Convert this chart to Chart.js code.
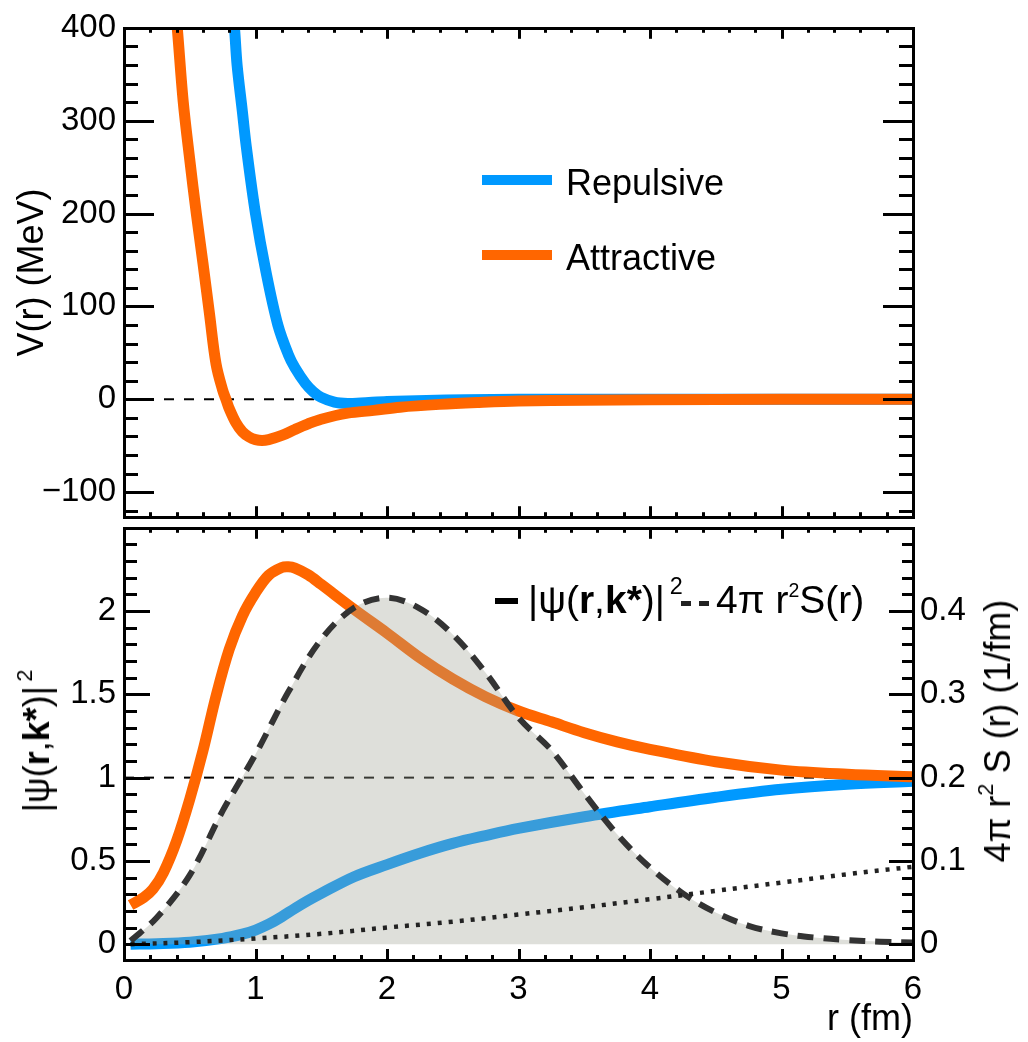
<!DOCTYPE html>
<html>
<head>
<meta charset="utf-8">
<title>V(r) and |psi|^2</title>
<script src="https://cdn.jsdelivr.net/npm/chart.js@4.4.1/dist/chart.umd.min.js"></script>
<style>
  html, body { margin: 0; padding: 0; background: #fff; }
  body { width: 1028px; height: 1042px; position: relative; overflow: hidden;
         font-family: "Liberation Sans", Arial, Helvetica, sans-serif; color: #000; }
  #topBox { position: absolute; left: 0; top: 0; width: 1028px; height: 545px; }
  #botBox { position: absolute; left: 0; top: 500px; width: 1028px; height: 542px; }
  .txt { position: absolute; white-space: nowrap; line-height: 1; }
  .rot { transform: translate(-50%, -50%) rotate(-90deg); }
  .txt sup { font-size: 0.6em; vertical-align: 0.8em; line-height: 0; }
  .bar { position: absolute; }
</style>
</head>
<body>
<div id="topBox"><canvas id="potChart" width="1028" height="545"></canvas></div>
<div id="botBox"><canvas id="wfChart" width="1028" height="542"></canvas></div>

<!-- legend, top pad -->
<div class="bar" style="left:482px; top:175px; width:70px; height:10px; background:#0099ff"></div>
<div class="txt" style="left:566px; top:165px; font-size:36px">Repulsive</div>
<div class="bar" style="left:482px; top:250px; width:70px; height:10px; background:#ff6600"></div>
<div class="txt" style="left:566px; top:240px; font-size:36px">Attractive</div>

<!-- legend, bottom pad -->
<div class="bar" style="left:495px; top:598px; width:23px; height:6px; background:#000"></div>
<div class="txt" style="left:528px; top:580px; font-size:39px">|ψ(<b>r</b>,<b>k*</b>)|<sup style="margin-left:0.2em">2</sup></div>
<div class="bar" style="left:681px; top:601px; width:10px; height:5px; background:#222"></div>
<div class="bar" style="left:699px; top:601px; width:10px; height:5px; background:#222"></div>
<div class="txt" style="left:716px; top:580px; font-size:39px">4π r<sup style="font-size:0.5em">2</sup>S(r)</div>

<!-- axis titles of the bottom pad -->
<div class="txt rot" style="left:37px; top:741px; font-size:36px">|ψ(<b>r</b>,<b>k*</b>)|<sup style="margin-left:0.2em">2</sup></div>
<div class="txt rot" style="left:998px; top:731px; font-size:36px">4π r<sup>2</sup> S (r) (1/fm)</div>

<script>
'use strict'

/* valeurs */

// panneau du haut : V(r) en MeV
const rAttractiveV = [0.38, 0.40, 0.45, 0.50, 0.55, 0.60, 0.65, 0.70, 0.75, 0.78, 0.80, 0.85, 0.90, 0.95, 1.00, 1.05, 1.10, 1.20, 1.30, 1.40, 1.50, 1.70, 1.90, 2.10, 2.40, 2.70, 3.00, 3.50, 4.00, 5.00, 6.00];
const vAttractive  = [430, 408, 321, 258, 200, 147, 92, 38, 10, -2, -10, -25, -35, -40.5, -43.5, -44.5, -43.5, -39, -32.5, -26.5, -21.5, -15, -12, -8.5, -5.5, -3.5, -2, -1, -0.5, 0, 0];

const rRepulsiveV = [0.80, 0.84, 0.86, 0.90, 0.93, 1.00, 1.08, 1.17, 1.25, 1.30, 1.38, 1.44, 1.50, 1.60, 1.70, 1.80, 2.00, 2.30, 2.60, 3.00, 4.00, 6.00];
const vRepulsive  = [460, 400, 360, 310, 272, 200, 137, 80, 48, 34, 17, 8, 2, -3, -4.5, -4, -2.5, -1.2, -0.5, 0, 0, 0];

// panneau du bas : |psi|^2 (axe de gauche)
const rPsiAttractive = [0.05, 0.15, 0.22, 0.30, 0.40, 0.50, 0.60, 0.70, 0.80, 0.90, 1.00, 1.10, 1.20, 1.25, 1.30, 1.40, 1.50, 1.75, 2.00, 2.25, 2.50, 2.75, 3.00, 3.25, 3.50, 3.75, 4.00, 4.50, 5.00, 5.50, 6.00];
const psiAttractive  = [0.235, 0.28, 0.33, 0.43, 0.62, 0.87, 1.16, 1.49, 1.77, 1.97, 2.11, 2.215, 2.262, 2.266, 2.258, 2.218, 2.16, 2.01, 1.868, 1.72, 1.592, 1.485, 1.40, 1.335, 1.27, 1.215, 1.17, 1.095, 1.045, 1.02, 1.005];

const rPsiRepulsive = [0.05, 0.25, 0.50, 0.75, 0.90, 1.00, 1.10, 1.20, 1.30, 1.40, 1.50, 1.75, 2.00, 2.25, 2.50, 2.75, 3.00, 3.50, 4.00, 4.50, 5.00, 5.50, 6.00];
const psiRepulsive  = [0.0, 0.003, 0.012, 0.035, 0.06, 0.085, 0.12, 0.165, 0.215, 0.262, 0.305, 0.405, 0.478, 0.546, 0.605, 0.652, 0.695, 0.765, 0.825, 0.882, 0.93, 0.96, 0.978];

// 4 pi r^2 S(r) en 1/fm (axe de droite)
const rSource = [0.05, 0.25, 0.50, 0.75, 1.00, 1.25, 1.50, 1.75, 2.00, 2.25, 2.50, 2.75, 3.00, 3.25, 3.50, 3.75, 4.00, 4.25, 4.50, 4.75, 5.00, 5.25, 5.50, 5.75, 6.00];
const sourceS = [0.004, 0.032, 0.083, 0.16, 0.228, 0.303, 0.366, 0.404, 0.416, 0.403, 0.372, 0.326, 0.272, 0.233, 0.181, 0.132, 0.092, 0.061, 0.038, 0.022, 0.013, 0.008, 0.005, 0.003, 0.002];

// courbe pointillee (axe de gauche)
const rDotted = [0.05, 0.50, 1.00, 1.50, 2.00, 2.50, 3.00, 3.50, 4.00, 4.50, 5.00, 5.50, 6.00];
const dotted  = [0.0, 0.012, 0.034, 0.062, 0.10, 0.135, 0.178, 0.222, 0.27, 0.32, 0.37, 0.42, 0.465];

// graduations
const rTicks = [0, 1, 2, 3, 4, 5, 6];
const vTicks = [-100, 0, 100, 200, 300, 400];
const psiTicks = [0, 0.5, 1, 1.5, 2];
const sTicks = [0, 0.1, 0.2, 0.3, 0.4];

const BLUE = '#0099ff';
const ORANGE = '#ff6600';

Chart.defaults.font.family = '"Liberation Sans", Arial, Helvetica, sans-serif';
Chart.defaults.color = '#000';

function pts(xs, ys) {
  return xs.map((x, i) => ({ x: x, y: ys[i] }));
}

function fmt(v) {
  return v < 0 ? '\u2212' + Math.abs(v) : String(v);
}

// cadre et graduations vers l'interieur, facon ROOT
const rootFrame = {
  id: 'rootFrame',
  afterDatasetsDraw(chart, args, opts) {
    const ctx = chart.ctx;
    const a = chart.chartArea;
    ctx.save();
    ctx.strokeStyle = '#000';
    ctx.lineWidth = 3;
    ctx.lineCap = 'butt';

    for (const ax of opts.axes) {
      const s = chart.scales[ax.id];
      const majors = s.ticks.map(t => t.value);
      const mark = (v, len) => {
        const p = Math.round(s.getPixelForValue(v)) + 0.5;
        for (const side of ax.sides) {
          ctx.beginPath();
          if (side === 'left') { ctx.moveTo(a.left, p); ctx.lineTo(a.left + len, p); }
          if (side === 'right') { ctx.moveTo(a.right, p); ctx.lineTo(a.right - len, p); }
          if (side === 'bottom') { ctx.moveTo(p, a.bottom); ctx.lineTo(p, a.bottom - len); }
          if (side === 'top') { ctx.moveTo(p, a.top); ctx.lineTo(p, a.top + len); }
          ctx.stroke();
        }
      };
      majors.forEach(v => mark(v, ax.major));
      const k0 = Math.ceil(s.min / ax.step - 1e-6);
      const k1 = Math.floor(s.max / ax.step + 1e-6);
      for (let k = k0; k <= k1; k++) {
        const v = k * ax.step;
        if (!majors.some(m => Math.abs(m - v) < ax.step / 10)) mark(v, ax.minor);
      }
    }

    ctx.strokeRect(Math.round(a.left) + 0.5, Math.round(a.top) + 0.5,
                   Math.round(a.right - a.left), Math.round(a.bottom - a.top));
    ctx.restore();
  }
};

function lineSet(data, color, width, order, axis) {
  return {
    data: data,
    borderColor: color,
    borderWidth: width,
    pointRadius: 0,
    fill: false,
    tension: 0.35,
    clip: 0,
    order: order,
    yAxisID: axis || 'y'
  };
}

/* panneau du haut */

const potChart = new Chart(document.getElementById('potChart'), {
  type: 'line',
  data: {
    datasets: [
      Object.assign(lineSet(pts([0, 6], [0, 0]), '#000', 2, 9), { borderDash: [10, 10], tension: 0 }),
      lineSet(pts(rRepulsiveV, vRepulsive), BLUE, 11, 5),
      lineSet(pts(rAttractiveV, vAttractive), ORANGE, 11, 4)
    ]
  },
  options: {
    responsive: false,
    animation: false,
    devicePixelRatio: 1,
    layout: { padding: { top: 22, right: 115, bottom: 23, left: 0 } },
    plugins: {
      legend: { display: false },
      tooltip: { enabled: false },
      rootFrame: {
        axes: [
          { id: 'y', sides: ['left', 'right'], major: 30, minor: 14, step: 20 },
          { id: 'x', sides: ['bottom', 'top'], major: 11, minor: 5, step: 0.2 }
        ]
      }
    },
    scales: {
      x: {
        type: 'linear', min: 0, max: 6,
        ticks: { display: false },
        grid: { display: false, drawTicks: false },
        border: { display: false },
        afterBuildTicks: s => { s.ticks = rTicks.map(v => ({ value: v })); },
        afterFit: s => { s.height = 0; }
      },
      y: {
        type: 'linear', position: 'left', min: -127, max: 400,
        ticks: { font: { size: 33 }, padding: 8, callback: v => fmt(v) },
        grid: { display: false, drawTicks: false },
        border: { display: false },
        title: { display: true, text: 'V(r) (MeV)', font: { size: 36 }, padding: { top: 11, bottom: 0 } },
        afterBuildTicks: s => { s.ticks = vTicks.map(v => ({ value: v })); },
        afterFit: s => { s.width = 124; }
      }
    }
  },
  plugins: [rootFrame]
});

/* panneau du bas */

const wfChart = new Chart(document.getElementById('wfChart'), {
  type: 'line',
  data: {
    datasets: [
      Object.assign(lineSet(pts([0, 6], [1, 1]), '#000', 2, 9), { borderDash: [10, 10], tension: 0 }),
      lineSet(pts(rPsiRepulsive, psiRepulsive), BLUE, 11, 5),
      lineSet(pts(rPsiAttractive, psiAttractive), ORANGE, 11, 4),
      Object.assign(lineSet(pts(rSource, sourceS), '#333', 6, 3, 'y2'), {
        borderDash: [16, 10],
        fill: 'origin',
        backgroundColor: 'rgba(160,163,148,0.35)'
      }),
      Object.assign(lineSet(pts(rDotted, dotted), '#222', 4.5, 2), { borderDash: [4, 7] })
    ]
  },
  options: {
    responsive: false,
    animation: false,
    devicePixelRatio: 1,
    layout: { padding: { top: 22, right: 0, bottom: 0, left: 0 } },
    plugins: {
      legend: { display: false },
      tooltip: { enabled: false },
      rootFrame: {
        axes: [
          { id: 'y', sides: ['left'], major: 26, minor: 13, step: 0.1 },
          { id: 'y2', sides: ['right'], major: 24, minor: 11, step: 0.02 },
          { id: 'x', sides: ['bottom', 'top'], major: 11, minor: 5, step: 0.2 }
        ]
      }
    },
    scales: {
      x: {
        type: 'linear', position: 'bottom', min: 0, max: 6,
        ticks: { font: { size: 33 }, padding: 10, maxRotation: 0, callback: v => fmt(v) },
        grid: { display: false, drawTicks: false },
        border: { display: false },
        title: { display: true, text: 'r (fm)', align: 'end', font: { size: 36 }, padding: { top: 0, bottom: 0 } },
        afterBuildTicks: s => { s.ticks = rTicks.map(v => ({ value: v })); },
        afterFit: s => { s.height = 82; }
      },
      y: {
        type: 'linear', position: 'left', min: -0.095, max: 2.5,
        ticks: { font: { size: 33 }, padding: 8, callback: v => fmt(v) },
        grid: { display: false, drawTicks: false },
        border: { display: false },
        afterBuildTicks: s => { s.ticks = psiTicks.map(v => ({ value: v })); },
        afterFit: s => { s.width = 124; }
      },
      y2: {
        type: 'linear', position: 'right', min: -0.019, max: 0.5,
        ticks: { font: { size: 33 }, padding: 7, callback: v => fmt(v) },
        grid: { display: false, drawTicks: false },
        border: { display: false },
        afterBuildTicks: s => { s.ticks = sTicks.map(v => ({ value: v })); },
        afterFit: s => { s.width = 115; }
      }
    }
  },
  plugins: [rootFrame]
});
</script>
</body>
</html>
